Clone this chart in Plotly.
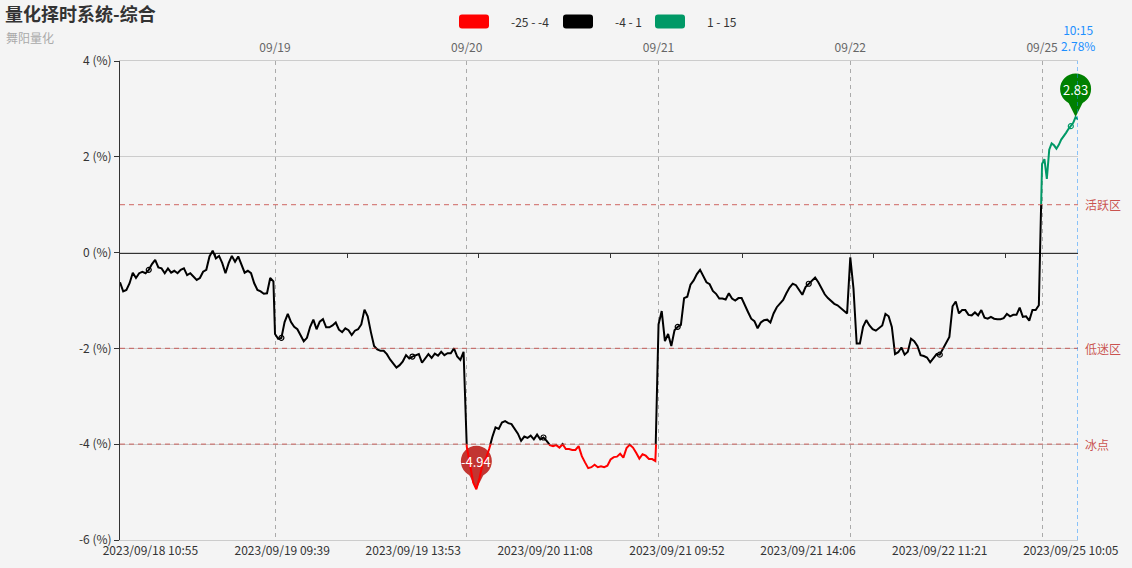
import numpy as np
import plotly.graph_objects as go

# ---- values ----
title = "量化择时系统-综合"
subtitle = "舞阳量化"

days = ["09/18", "09/19", "09/20", "09/21", "09/22", "09/25"]
day_bars = [194, 240, 240, 240, 240, 46]      # minute bars per trading day
sample_step = [4, 4, 4, 4, 4, 3]              # minutes between the values below

v0918 = [-0.62, -0.81, -0.78, -0.64, -0.42, -0.53, -0.43, -0.40, -0.43, -0.36,
         -0.24, -0.15, -0.31, -0.33, -0.43, -0.33, -0.42, -0.38, -0.43, -0.36,
         -0.33, -0.47, -0.43, -0.51, -0.57, -0.53, -0.40, -0.36, -0.08, 0.04,
         -0.12, -0.07, -0.22, -0.43, -0.22, -0.07, -0.19, -0.08, -0.24, -0.42,
         -0.38, -0.43, -0.64, -0.78, -0.81, -0.86, -0.85, -0.53, -0.60]
v0919 = [-1.70, -1.80, -1.78, -1.45, -1.28, -1.45, -1.55, -1.60, -1.73, -1.85,
         -1.78, -1.55, -1.40, -1.60, -1.44, -1.39, -1.56, -1.56, -1.52, -1.46,
         -1.61, -1.66, -1.58, -1.62, -1.72, -1.63, -1.60, -1.50, -1.19, -1.33,
         -1.66, -1.95, -2.02, -2.05, -2.05, -2.12, -2.23, -2.32, -2.40, -2.35,
         -2.27, -2.14, -2.21, -2.17, -2.14, -2.12, -2.30, -2.20, -2.12, -2.20,
         -2.11, -2.15, -2.07, -2.14, -2.10, -2.10, -2.00, -2.17, -2.24, -2.07]
v0920 = [-4.05, -4.45, -4.80, -4.94, -4.70, -4.40, -4.30, -4.10, -3.85, -3.65,
         -3.68, -3.55, -3.52, -3.56, -3.58, -3.68, -3.78, -3.93, -3.84, -3.87,
         -3.82, -3.90, -3.80, -3.90, -3.86, -3.93, -4.02, -4.04, -4.02, -4.07,
         -4.00, -4.10, -4.10, -4.12, -4.12, -4.04, -4.25, -4.38, -4.50, -4.48,
         -4.43, -4.48, -4.46, -4.48, -4.45, -4.32, -4.27, -4.26, -4.20, -4.28,
         -4.08, -4.01, -4.07, -4.18, -4.30, -4.21, -4.24, -4.31, -4.31, -4.35]
v0921 = [-1.50, -1.22, -1.85, -1.70, -1.95, -1.62, -1.55, -1.51, -0.95, -0.92,
         -0.67, -0.58, -0.45, -0.36, -0.48, -0.62, -0.66, -0.80, -0.86, -0.96,
         -0.96, -0.98, -0.85, -0.96, -1.00, -0.95, -0.95, -1.08, -1.24, -1.38,
         -1.43, -1.58, -1.46, -1.41, -1.40, -1.46, -1.27, -1.14, -1.07, -0.99,
         -0.85, -0.73, -0.65, -0.68, -0.78, -0.88, -0.72, -0.65, -0.59, -0.52,
         -0.62, -0.75, -0.87, -0.95, -1.01, -1.07, -1.10, -1.16, -1.21, -1.27]
v0922 = [-0.10, -0.75, -1.90, -1.90, -1.55, -1.41, -1.52, -1.60, -1.63, -1.58,
         -1.52, -1.28, -1.33, -1.55, -2.12, -2.08, -1.98, -2.13, -2.07, -1.80,
         -1.85, -1.95, -2.14, -2.16, -2.19, -2.29, -2.21, -2.12, -2.13, -2.01,
         -1.87, -1.76, -1.12, -1.02, -1.27, -1.20, -1.20, -1.30, -1.31, -1.25,
         -1.31, -1.20, -1.36, -1.38, -1.34, -1.38, -1.39, -1.39, -1.37, -1.28,
         -1.33, -1.30, -1.30, -1.15, -1.34, -1.33, -1.42, -1.20, -1.20, -1.10]
v0925 = [1.85, 1.95, 1.54, 2.15, 2.28, 2.24, 2.17, 2.25, 2.36, 2.42,
         2.50, 2.58, 2.64, 2.71, 2.83, 2.78]

bottom_tick_idx = [38, 203, 367, 532, 697, 861, 1026, 1190]
bottom_tick_text = ["2023/09/18 10:55", "2023/09/19 09:39", "2023/09/19 13:53",
                    "2023/09/20 11:08", "2023/09/21 09:52", "2023/09/21 14:06",
                    "2023/09/22 11:21", "2023/09/25 10:05"]
last_time = "10:15"

piece_lo = [-25, -4, 1]
piece_hi = [-4, 1, 15]
piece_colors = ["#ff0000", "#000000", "#009966"]

zone_levels = [1, -2, -4]
zone_names = ["活跃区", "低迷区", "冰点"]

y_min, y_max = -6, 4

# ---- geometry ----
W, H = 1132, 568
L, R, T, B = 120, 54, 61, 28
PW, PH = W - L - R, H - T - B
FONT = "Noto Sans CJK SC, Noto Sans, sans-serif"
BG = "#f4f4f4"


def px_x(p):
    return (p - L) / PW


def px_y(p):
    return (H - B - p) / PH


# build the minute index for every value
starts = np.concatenate([[0], np.cumsum(day_bars)[:-1]])
n_bars = int(sum(day_bars))
xs, ys = [], []
for s, step, vals in zip(starts, sample_step, [v0918, v0919, v0920, v0921, v0922, v0925]):
    xs += [int(s) + step * i for i in range(len(vals))]
    ys += vals
xs = np.array(xs)
ys = np.array(ys)

zero_ticks = [(a + b) // 2 for a, b in zip(bottom_tick_idx[:-1], bottom_tick_idx[1:])]
y_ticks = list(range(y_min, y_max + 1, 2))

fig = go.Figure()

# invisible helpers so the overlay axes get drawn
for ax in ["x2", "x3"]:
    fig.add_trace(go.Scatter(x=[0, n_bars - 1], y=[y_min, y_min], xaxis=ax, yaxis="y",
                             mode="lines", opacity=0, hoverinfo="skip", showlegend=False))

# the line, coloured by value band (each band clipped by its own y axis)
span = y_max - y_min
band_axes = {}
for i, (lo, hi, col) in enumerate(zip(piece_lo, piece_hi, piece_colors)):
    lo_c, hi_c = max(lo, y_min), min(hi, y_max)
    name = "yaxis%d" % (i + 2)
    band_axes[name] = dict(domain=[(lo_c - y_min) / span, (hi_c - y_min) / span],
                           range=[lo_c, hi_c], anchor="x", visible=False)
    fig.add_trace(go.Scatter(x=xs, y=ys, xaxis="x", yaxis="y%d" % (i + 2), mode="lines",
                             line=dict(color=col, width=2), hoverinfo="skip", showlegend=False))


def band_color(v):
    for lo, hi, col in zip(piece_lo, piece_hi, piece_colors):
        if lo <= v < hi:
            return col
    return piece_colors[-1]


# hollow symbols at the labelled points
near = [int(np.argmin(np.abs(xs - i))) for i in bottom_tick_idx]
fig.add_trace(go.Scatter(
    x=xs[near], y=ys[near], mode="markers", hoverinfo="skip", showlegend=False,
    marker=dict(symbol="circle", size=5, color="#ffffff",
                line=dict(color=[band_color(v) for v in ys[near]], width=1.2))))

# min / max pins
pin_idx = [int(np.argmin(ys)), int(np.argmax(ys))]
pin_colors = ["#c23531", "#008000"]
annotations = []
for k, col in zip(pin_idx, pin_colors):
    for sym, size, off in [("diamond-tall", 25.7, 18), ("circle", 31, 28)]:
        fig.add_trace(go.Scatter(
            x=[xs[k]], y=[ys[k]], mode="markers", cliponaxis=False, hoverinfo="skip",
            showlegend=False,
            marker=dict(symbol=sym, size=size, color=col, standoff=off, angle=180,
                        line=dict(width=0))))
    annotations.append(dict(x=xs[k], y=ys[k], xref="x", yref="y", yshift=28,
                            text="%.2f" % ys[k], showarrow=False,
                            font=dict(color="#ffffff", size=13)))

shapes = []
# zone lines
for lv, nm in zip(zone_levels, zone_names):
    shapes.append(dict(type="line", xref="x domain", x0=0, x1=1, yref="y", y0=lv, y1=lv,
                       line=dict(color="rgba(194,53,49,0.6)", width=1.2, dash="5px,4px"),
                       layer="above"))
    annotations.append(dict(xref="x domain", x=1, xshift=5, xanchor="left", yref="y", y=lv,
                            text=nm, showarrow=False,
                            font=dict(color="rgba(194,53,49,0.85)", size=12)))

# current point marker line and label
shapes.append(dict(type="line", xref="x", x0=xs[-1], x1=xs[-1], yref="y domain", y0=0, y1=1,
                   line=dict(color="#1e90ff", width=1, dash="4px,3px"), layer="above"))
annotations.append(dict(xref="x", x=xs[-1], yref="paper", y=1, yanchor="bottom", yshift=5,
                        text="%s<br>%.2f%%" % (last_time, ys[-1]), showarrow=False,
                        align="center", font=dict(color="#1e90ff", size=12)))

# piecewise legend
rr = ("M-12,-7 L12,-7 Q15,-7 15,-4 L15,4 Q15,7 12,7 L-12,7 Q-15,7 -15,4 "
      "L-15,-4 Q-15,-7 -12,-7 Z")
legend_cx = [474, 578, 670]
for cx, lo, hi, col in zip(legend_cx, piece_lo, piece_hi, piece_colors):
    shapes.append(dict(type="path", xref="paper", yref="paper", xsizemode="pixel",
                       ysizemode="pixel", xanchor=px_x(cx), yanchor=px_y(21.5), path=rr,
                       fillcolor=col, line=dict(width=0), layer="above"))
    annotations.append(dict(xref="paper", yref="paper", x=px_x(cx + 35), y=px_y(21.5),
                            xanchor="left", yanchor="middle", text="%d - %d" % (lo, hi),
                            showarrow=False, font=dict(color="#333333", size=12)))

annotations.append(dict(xref="paper", yref="paper", x=px_x(4), y=px_y(38), xanchor="left",
                        yanchor="middle", text=subtitle, showarrow=False,
                        font=dict(color="#aaaaaa", size=12)))

rng = [0, n_bars - 1]
fig.update_layout(
    template="none",
    width=W, height=H,
    margin=dict(l=L, r=R, t=T, b=B, pad=0),
    paper_bgcolor=BG, plot_bgcolor="rgba(0,0,0,0)",
    font=dict(family=FONT, size=12, color="#333333"),
    showlegend=False,
    hovermode=False,
    title=dict(text="<b>%s</b>" % title, x=5 / W, xanchor="left", xref="container",
               y=1 - 15 / H, yanchor="middle", yref="container",
               font=dict(size=18, color="#333333", family=FONT)),
    xaxis=dict(domain=[0, 1], range=rng, anchor="free", position=(0 - y_min) / span,
               showline=True, linecolor="#333333", linewidth=1, ticks="outside", ticklen=4,
               tickcolor="#333333", tickvals=zero_ticks, showticklabels=False,
               showgrid=False, zeroline=False, automargin=False),
    xaxis2=dict(overlaying="x", matches="x", anchor="y", side="bottom", range=rng,
                showline=True, linecolor="#cccccc", ticks="", tickvals=bottom_tick_idx,
                ticktext=bottom_tick_text, tickfont=dict(size=12, color="#333333"),
                showgrid=False, zeroline=False, automargin=False),
    xaxis3=dict(overlaying="x", matches="x", anchor="y", side="top", range=rng,
                showline=True, linecolor="#cccccc", ticks="",
                tickvals=[int(s) for s in starts[1:]], ticktext=days[1:],
                tickfont=dict(size=12, color="#666666"), ticklabelstandoff=3,
                showgrid=True, gridcolor="#aaaaaa", griddash="4px,4px", gridwidth=1,
                zeroline=False, automargin=False),
    yaxis=dict(domain=[0, 1], range=[y_min, y_max], anchor="x",
               tickvals=y_ticks, ticktext=["%d (%%)" % v for v in y_ticks],
               showline=True, linecolor="#333333", ticks="outside", ticklen=5,
               tickcolor="#333333", gridcolor="#cccccc", zeroline=False,
               tickfont=dict(size=12, color="#333333"), automargin=False),
    shapes=shapes,
    annotations=annotations,
    **band_axes,
)

fig.write_html("out.html",
               config={"displayModeBar": False},
               post_script="document.body.style.margin='0';"
                           "document.body.style.background='%s';" % BG)
